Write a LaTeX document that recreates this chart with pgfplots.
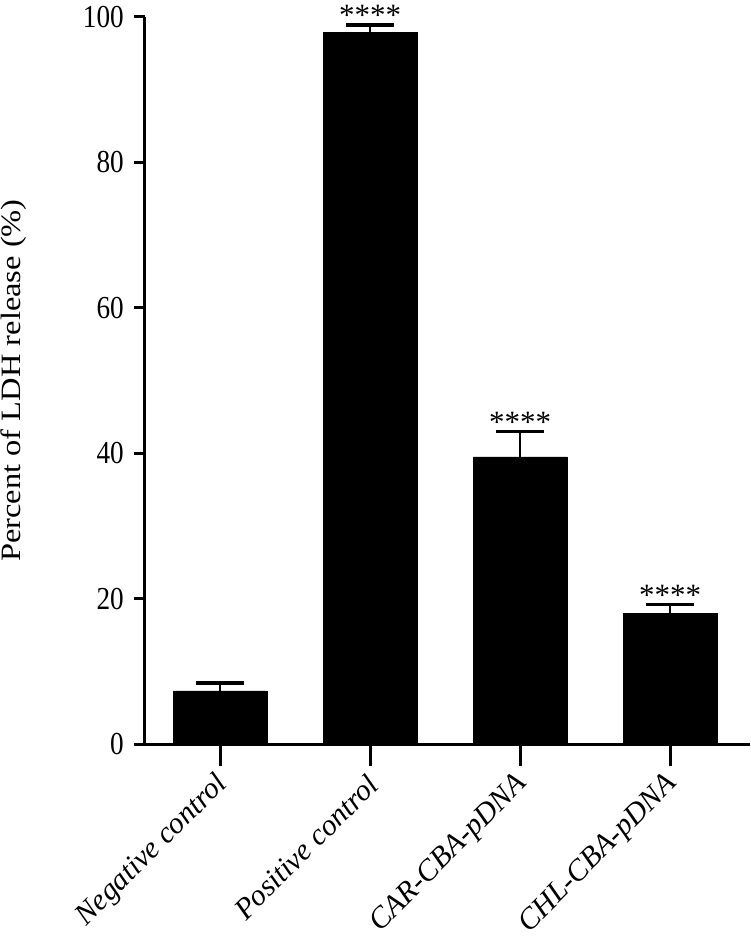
\documentclass[border=0pt]{standalone}
\usepackage{pgfplots}
\pgfplotsset{compat=1.18}
\usepackage{fontspec}
\setmainfont{Liberation Serif}
\newfontfamily\tickfont[FakeStretch=0.85]{Liberation Serif}
\newfontfamily\labfont[FakeStretch=1.16]{Liberation Serif}
\begin{document}
\begin{tikzpicture}
\begin{axis}[
  scale only axis,
  width=605pt, height=727pt,
  xmin=-0.5, xmax=3.533,
  ymin=0, ymax=100,
  axis x line*=bottom, axis y line*=left,
  axis line style={line width=3pt, -},
  every tick/.style={black, line width=3pt},
  tick align=outside,
  major tick length=11pt,
  xtick={0,1,2,3},
  xtick style={draw=none},
  xticklabels={Negative control, Positive control, CAR-CBA-pDNA, CHL-CBA-pDNA},
  ytick={0,20,40,60,80,100},
  /pgf/number format/assume math mode=true,
  yticklabel style={font=\tickfont\fontsize{32}{32}\selectfont, anchor=east, inner sep=0pt, xshift=-10pt},
  xticklabel style={font=\itshape\fontsize{30}{30}\selectfont, xshift=3pt, yshift=-25pt, rotate=45, anchor=east, inner sep=0pt},
  ylabel={Percent of LDH release (\%)},
  ylabel style={font=\labfont\fontsize{28}{28}\selectfont, at={(rel axis cs:0,0.5)}, anchor=center, yshift=131pt},
  clip=false,
]
\addplot[ybar, bar width=94pt, fill=black, draw=black,
  error bars/.cd, y dir=plus, y explicit,
  error bar style={line width=2.5pt, black},
  error mark options={rotate=90, mark size=24pt, line width=3.5pt, black}]
  coordinates {(0,7.3) +- (0,1.1) (1,97.9) +- (0,1.0) (2,39.5) +- (0,3.5) (3,18.0) +- (0,1.2)};
\addplot[ycomb, mark=none, line width=3pt, black]
  coordinates {(0,-3.03) (1,-3.03) (2,-3.03) (3,-3.03)};
\addplot[draw=none, mark=none, point meta=explicit symbolic,
  nodes near coords, nodes near coords align={above},
  every node near coord/.style={font=\fontsize{31}{31}\selectfont, inner sep=0pt, yshift=-1pt}]
  coordinates {(1,98.9)[****] (2,43.0)[****] (3,19.2)[****]};
\end{axis}
\pgfresetboundingbox
\path[use as bounding box] ([xshift=-145pt,yshift=-197pt]current axis.south west) rectangle ([yshift=17pt]current axis.north east);
\end{tikzpicture}
\end{document}
